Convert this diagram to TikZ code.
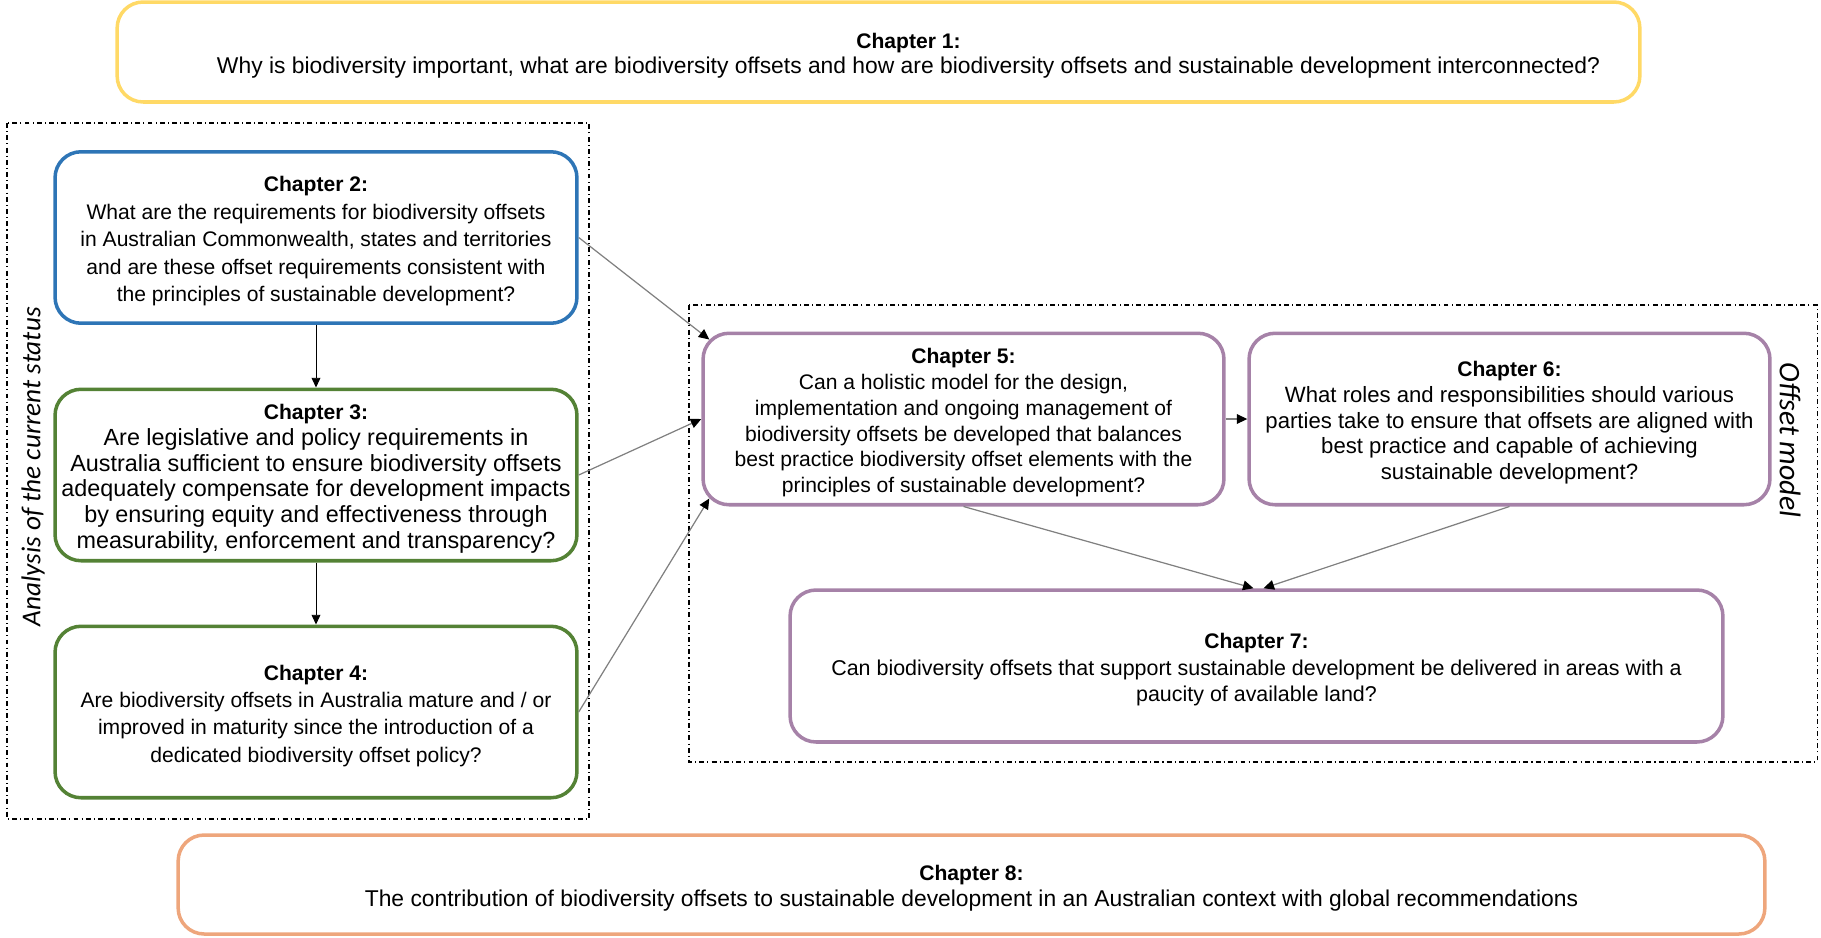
\documentclass[tikz,border=0pt]{standalone}
\usepackage{fontspec}
\setmainfont{Liberation Sans}
\newfontfamily\labelfont{Carlito}
\usetikzlibrary{arrows.meta}

\definecolor{chyellow}{HTML}{FFD966}
\definecolor{chblue}{HTML}{2E75B6}
\definecolor{chgreen}{HTML}{548235}
\definecolor{chpurple}{HTML}{A682A8}
\definecolor{chorange}{HTML}{EEA67C}

\newcommand\chtitle[1]{{\rule{0pt}{13pt}\bfseries\fontsize{12}{14}\selectfont #1}}

\begin{document}
\begin{tikzpicture}[
    x=0.02cm, y=-0.02cm,
    chapter/.style={draw, rounded corners=0.52cm, line width=2pt, align=center, inner sep=0pt},
    smallbox/.style={chapter, minimum width=10.44cm, minimum height=3.43cm},
    groupbox/.style={line width=0.6pt, dash pattern=on 2.8pt off 1.8pt on 0.6pt off 1.8pt},
    grouplabel/.style={font=\labelfont\itshape\fontsize{#1}{20}\selectfont},
    link/.style={gray, line width=0.7pt, -{Triangle[black, length=6pt, width=5.5pt]}},
    down/.style={black, line width=0.5pt, -{Triangle[black, length=5.5pt, width=5pt]}}
]
    \useasboundingbox (0,0) rectangle (1821,937);

    % groups
    \draw[groupbox] (7,123) rectangle (589,819);
    \draw[groupbox] (689,305) rectangle (1817,762);
    \node[grouplabel=15.5, rotate=90] (analysis) at (33,467) {Analysis of the current status};
    \node[grouplabel=17, rotate=-90] (model) at (1790,440) {Offset model};

    % chapters
    \node[chapter, draw=chyellow, minimum width=30.46cm, minimum height=2cm,
          font=\fontsize{13}{14.4}\selectfont] (ch1) at (878.5,52)
        {\hspace*{1.2cm}\chtitle{Chapter 1:}\\\hspace*{1.2cm}Why is biodiversity important, what are biodiversity offsets and how are biodiversity offsets and sustainable development interconnected?};
    \node[smallbox, draw=chblue, font=\fontsize{12}{15.6}\selectfont] (ch2) at (316,237.5)
        {\chtitle{Chapter 2:}\\What are the requirements for biodiversity offsets\\in Australian Commonwealth, states and territories\\and are these offset requirements consistent with\\the principles of sustainable development?};
    \node[smallbox, draw=chgreen, font=\fontsize{13.3}{14.6}\selectfont] (ch3) at (316,475)
        {\chtitle{Chapter 3:}\\Are legislative and policy requirements in\\Australia sufficient to ensure biodiversity offsets\\adequately compensate for development impacts\\by ensuring equity and effectiveness through\\measurability, enforcement and transparency?};
    \node[smallbox, draw=chgreen, font=\fontsize{12}{15.6}\selectfont] (ch4) at (316,712)
        {\chtitle{Chapter 4:}\\Are biodiversity offsets in Australia mature and / or\\improved in maturity since the introduction of a\\dedicated biodiversity offset policy?};
    \node[smallbox, draw=chpurple, minimum width=10.42cm, font=\fontsize{12}{14.65}\selectfont] (ch5) at (963.5,419)
        {\chtitle{Chapter 5:}\\Can a holistic model for the design,\\implementation and ongoing management of\\biodiversity offsets be developed that balances\\best practice biodiversity offset elements with the\\principles of sustainable development?};
    \node[smallbox, draw=chpurple, minimum width=10.42cm, font=\fontsize{12.6}{14.65}\selectfont] (ch6) at (1509.5,419)
        {\chtitle{Chapter 6:}\\What roles and responsibilities should various\\parties take to ensure that offsets are aligned with\\best practice and capable of achieving\\sustainable development?};
    \node[chapter, draw=chpurple, minimum width=18.66cm, minimum height=3.04cm,
          font=\fontsize{12.2}{15.1}\selectfont] (ch7) at (1256.5,666)
        {\chtitle{Chapter 7:}\\Can biodiversity offsets that support sustainable development be delivered in areas with a\\paucity of available land?};
    \node[chapter, draw=chorange, minimum width=31.74cm, minimum height=1.98cm,
          font=\fontsize{13}{15.1}\selectfont] (ch8) at (971.5,884.5)
        {\chtitle{Chapter 8:}\\The contribution of biodiversity offsets to sustainable development in an Australian context with global recommendations};

    % connectors
    \draw[down] (ch2) -- (ch3);
    \draw[down] (ch3) -- (ch4);
    \draw[link] (ch2.east) -- ([shift={(8,8)}]ch5.north west);
    \draw[link] (ch3.east) -- (ch5.west);
    \draw[link] (ch4.east) -- ([shift={(8,-8)}]ch5.south west);
    \draw[link] (ch5.east) -- (ch6.west);
    \draw[link] (ch5.south) -- ([xshift=-0.06cm]ch7.north);
    \draw[link] (ch6.south) -- ([xshift=0.14cm]ch7.north);
\end{tikzpicture}
\end{document}
